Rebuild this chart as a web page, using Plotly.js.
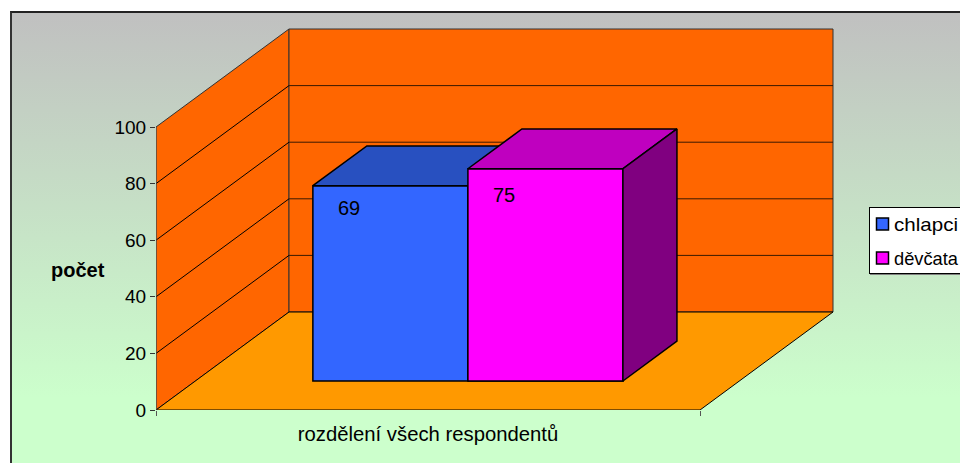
<!DOCTYPE html>
<html>
<head>
<meta charset="utf-8">
<script src="https://cdn.plot.ly/plotly-3.0.1.min.js"></script>
<style>
html,body{margin:0;padding:0;background:#fff;overflow:hidden;width:960px;height:463px}
#frame{position:absolute;left:10px;top:11px;width:960px;height:470px;box-sizing:border-box;
border-left:2px solid #333;border-top:2px solid #222;
background:linear-gradient(to bottom,#c0c0c0 0px,#ccffcc 385px,#ccffcc 100%)}
#chart{position:absolute;left:0;top:0;width:960px;height:463px}
</style>
</head>
<body>
<div id="frame"></div>
<div id="chart"></div>
<script>
// ---- data ----
const seriesNames = ['chlapci', 'děvčata'];
const seriesValues = [69, 75];
const categoryLabel = 'rozdělení všech respondentů';
const axisTicks = [0, 20, 40, 60, 80, 100];
const axisTitle = 'počet';
const frontColors = ['#3366ff', '#ff00ff'];
const topColors = ['#2850c0', '#bf00bf'];
const sideColors = ['#1a3380', '#800080'];

// ---- geometry of the oblique projection ----
const pxPerUnitX = 544, pxPerUnitY = 2.83;
const plotL = 156, plotB = 53, W = 960, H = 463;
const depthX = 133 / pxPerUnitX, depthY = 98 / pxPerUnitY;
const P = (u, d, v) => [u + d * depthX, v + d * depthY];
const barStart = 0.216, barWidth = 0.285, d0 = 0.296, d1 = 0.702;
const yMax = 100;

function poly(pts) { // closed SVG path in data coordinates
  return 'M' + pts.map(p => p[0] + ',' + p[1]).join('L') + 'Z';
}
function face(pts, color, lw) {
  const c = pts.concat([pts[0]]);
  return {type:'scatter', mode:'lines', x:c.map(p=>p[0]), y:c.map(p=>p[1]), fill:'toself', fillcolor:color,
    line:{color:'#000', width:lw}, showlegend:false, hoverinfo:'skip'};
}
const shapes = [];
const addShape = (pts, fill, lw, color) => shapes.push({type:'path', layer:'below', xref:'x', yref:'y',
  path:poly(pts), fillcolor:fill, line:{color:color||'#000', width:lw}});
const addLine = (a, b, color, lw) => shapes.push({type:'line', layer:'below', xref:'x', yref:'y',
  x0:a[0], y0:a[1], x1:b[0], y1:b[1], line:{color:color, width:lw}});

addShape([P(0,0,0),P(0,1,0),P(0,1,yMax),P(0,0,yMax)], '#ff6600', 1, '#333');
addShape([P(0,1,0),P(1,1,0),P(1,1,yMax),P(0,1,yMax)], '#ff6600', 1, '#333');
addShape([P(0,0,0),P(1,0,0),P(1,1,0),P(0,1,0)], '#ff9900', 1, '#000');
axisTicks.slice(1, -1).forEach(t => {
  addLine(P(0,0,t), P(0,1,t), '#000', 1);
  addLine(P(0,1,t), P(1,1,t), '#3a1a00', 1);
});
addLine(P(0,0,0), P(0,0,yMax), '#555', 1);

// legend shadow
shapes.push({type:'rect', layer:'below', xref:'paper', yref:'paper',
  x0:(870-plotL)/(W-plotL), x1:1.01, y0:(H-plotB-275)/(H-plotB), y1:(H-plotB-209)/(H-plotB),
  fillcolor:'#808080', line:{width:0}});

const traces = [];
// real value bars: front faces, and the legend
seriesValues.forEach((v, i) => {
  const left = P(barStart + i * barWidth, d0, 0);
  traces.push({type:'bar', name:seriesNames[i], x:[left[0] + barWidth/2], y:[v], base:[left[1]], width:[barWidth],
    legendgroup:'g'+i, marker:{color:frontColors[i], line:{color:'#000', width:1.5}}, hoverinfo:'skip'});
});
// top, side (and repeated front, so depth order is right)
seriesValues.forEach((v, i) => {
  const a = barStart + i * barWidth, b = a + barWidth;
  if (i > 0) {
    traces.push(face([P(a,d0,0),P(b,d0,0),P(b,d0,v),P(a,d0,v)], frontColors[i], 1.5));
  }
  traces.push(face([P(a,d0,v),P(b,d0,v),P(b,d1,v),P(a,d1,v)], topColors[i], 1.5));
  if (i === seriesValues.length - 1) {
    traces.push(face([P(b,d0,0),P(b,d1,0),P(b,d1,v),P(b,d0,v)], sideColors[i], 1.5));
  }
});

const labelNudge = [7, 3];
const family = 'Liberation Sans, Arial, sans-serif';
const font = {family:family, size:20, color:'#000'};
const annotations = seriesValues.map((v, i) => ({
  xref:'x', yref:'y', x:P(barStart + i * barWidth, d0, 0)[0], y:v, text:String(v), showarrow:false,
  xanchor:'center', yanchor:'middle', xshift:36, yshift:labelNudge[i], font:font
}));
annotations.push({xref:'paper', yref:'y', x:(77.5-plotL)/(W-plotL), y:49.5, text:'<b>'+axisTitle+'</b>',
  showarrow:false, xanchor:'center', yanchor:'middle', font:font});

const layout = {
  width:W, height:H, autosize:false,
  margin:{l:plotL, r:0, t:0, b:plotB, pad:0, autoexpand:false},
  paper_bgcolor:'rgba(0,0,0,0)', plot_bgcolor:'rgba(0,0,0,0)',
  barmode:'overlay', showlegend:true, font:font, shapes:shapes, annotations:annotations,
  xaxis:{range:[0,(W-plotL)/pxPerUnitX], tickmode:'array', tickvals:[0.5], ticktext:[categoryLabel],
    ticks:'', showgrid:false, zeroline:false, showline:false,
    tickfont:{family:family, size:20.3, color:'#000'}, ticklabelstandoff:10,
    minor:{tickmode:'array', tickvals:[0,1], ticks:'outside', ticklen:5, tickcolor:'#555', tickwidth:1, showgrid:false}},
  yaxis:{range:[0,(H-plotB)/pxPerUnitY], tickmode:'array', tickvals:axisTicks, ticks:'outside', ticklen:5,
    tickcolor:'#333', tickwidth:1, showgrid:false, zeroline:false, showline:false,
    tickfont:{family:family, size:19, color:'#000'}},
  legend:{x:(868.5-plotL)/(W-plotL), xanchor:'left', y:(H-plotB-207)/(H-plotB), yanchor:'top',
    bgcolor:'#fff', bordercolor:'#000', borderwidth:1, traceorder:'grouped', tracegroupgap:0,
    itemclick:false, itemdoubleclick:false, font:{family:family, size:18.2, color:'#000'}}
};

Plotly.newPlot('chart', traces, layout, {displayModeBar:false}).then(gd => {
  // tighten the legend key spacing to match the reference
  gd.querySelectorAll('.legend .legendpoints path').forEach(p => {
    p.setAttribute('transform', 'translate(13,0)');
  });
  gd.querySelectorAll('.legend .legendtext').forEach(t => {
    t.setAttribute('x', 24.5);
    t.setAttribute('textLength', 64);
    t.setAttribute('lengthAdjust', 'spacingAndGlyphs');
  });
  gd.querySelectorAll('.legend .groups').forEach(g => g.setAttribute('transform', 'translate(0,0)'));
  gd.querySelectorAll('.legend .traces').forEach((g, i) => g.setAttribute('transform', 'translate(1,' + (17 + 34 * i) + ')'));
  const bg = gd.querySelector('.legend .bg');
  if (bg) bg.setAttribute('height', 66);
});
</script>
</body>
</html>
